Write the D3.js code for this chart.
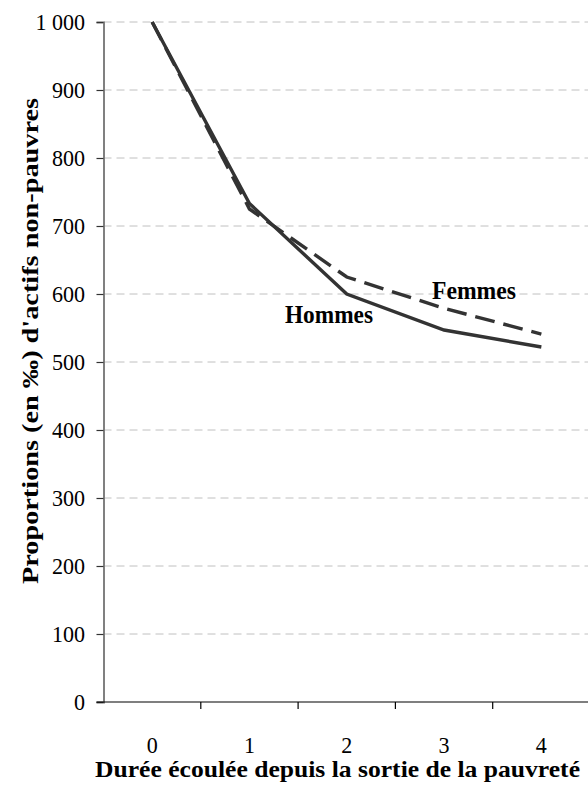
<!DOCTYPE html>
<html><head><meta charset="utf-8">
<script src="https://cdn.jsdelivr.net/npm/d3@7"></script>
<style>body{margin:0;background:#fff}svg{display:block}</style>
</head><body><svg id="c" width="588" height="789" font-family="Liberation Serif"></svg>
<script>
const categories = ["0","1","2","3","4"];
const hommes = [1000, 733, 600, 547, 522];
const femmes = [1000, 725, 625, 579, 541];
const yTicks = [0,100,200,300,400,500,600,700,800,900,1000];
const yTickLabels = ["0","100","200","300","400","500","600","700","800","900","1 000"];
const xTitle = "Durée écoulée depuis la sortie de la pauvreté";
const yTitle = "Proportions (en ‰) d'actifs non-pauvres";
const seriesNames = ["Hommes", "Femmes"];

const FONT = "Liberation Serif";
const svg = d3.select("#c");
const L = 103.5, R = 590, T = 22, B = 702;
const x = d3.scaleBand().domain(categories).range([L, R]).padding(0);
const y = d3.scaleLinear().domain([0, 1000]).range([B, T]);
const cx = c => x(c) + x.bandwidth() / 2;

// gridlines
svg.append("g").selectAll("line").data(yTicks.filter(d => d > 0)).join("line")
  .attr("x1", L).attr("x2", 588).attr("y1", d => y(d)).attr("y2", d => y(d))
  .attr("stroke", "#c0c0c0").attr("stroke-width", 1).attr("stroke-dasharray", "8,5");

// y axis
const yAxis = d3.axisLeft(y).tickValues(yTicks).tickSize(7).tickPadding(13)
  .tickFormat((d, i) => yTickLabels[i]);
const gy = svg.append("g").attr("transform", `translate(${L},0)`).call(yAxis)
  .attr("font-family", FONT).attr("font-size", 24);
gy.select(".domain").attr("stroke", "#808080").attr("stroke-width", 2);
gy.selectAll(".tick line").attr("stroke", "#333").attr("stroke-width", 1.2);
gy.selectAll(".tick text").attr("font-size", 24).attr("fill", "#000")
  .attr("font-family", FONT).attr("dy", "0.33em")
  .attr("transform", "scale(0.92,1)");

// x axis
const gx = svg.append("g").attr("transform", `translate(0,${B})`).attr("font-family", FONT);
gx.append("line").attr("x1", L - 7).attr("x2", 588).attr("y1", 0).attr("y2", 0)
  .attr("stroke", "#000").attr("stroke-width", 1.2);
gx.selectAll("line.tk").data(categories.slice(1)).join("line").attr("class", "tk")
  .attr("x1", d => x(d)).attr("x2", d => x(d)).attr("y1", 0).attr("y2", 7)
  .attr("stroke", "#000").attr("stroke-width", 1.2);
gx.selectAll("text").data(categories).join("text")
  .attr("transform", d => `translate(${cx(d)},51) scale(0.92,1)`)
  .attr("text-anchor", "middle").attr("font-size", 24).attr("font-family", FONT).text(d => d);

// lines
const line = d3.line().x((d, i) => cx(categories[i])).y(d => y(d));
svg.append("path").datum(femmes).attr("d", line).attr("fill", "none")
  .attr("stroke", "#333").attr("stroke-width", 3.4).attr("stroke-dasharray", "20,9");
svg.append("path").datum(hommes).attr("d", line).attr("fill", "none")
  .attr("stroke", "#333").attr("stroke-width", 3.4);

// series labels
svg.append("text").attr("x", 432).attr("y", 299).attr("font-size", 25)
  .attr("font-weight", "bold").attr("font-family", FONT).text(seriesNames[1])
  .attr("textLength", 84).attr("lengthAdjust", "spacingAndGlyphs");
svg.append("text").attr("x", 285).attr("y", 323).attr("font-size", 25)
  .attr("font-weight", "bold").attr("font-family", FONT).text(seriesNames[0])
  .attr("textLength", 88).attr("lengthAdjust", "spacingAndGlyphs");

// titles
svg.append("text").attr("x", 95).attr("y", 777)
  .attr("font-size", 23).attr("font-weight", "bold").attr("font-family", FONT).text(xTitle)
  .attr("textLength", 485).attr("lengthAdjust", "spacingAndGlyphs");
svg.append("text").attr("transform", `translate(38,${(98 + 584) / 2}) rotate(-90)`)
  .attr("text-anchor", "middle").attr("font-size", 23).attr("font-weight", "bold")
  .attr("font-family", FONT).text(yTitle)
  .attr("textLength", 486).attr("lengthAdjust", "spacingAndGlyphs");
</script></body></html>
